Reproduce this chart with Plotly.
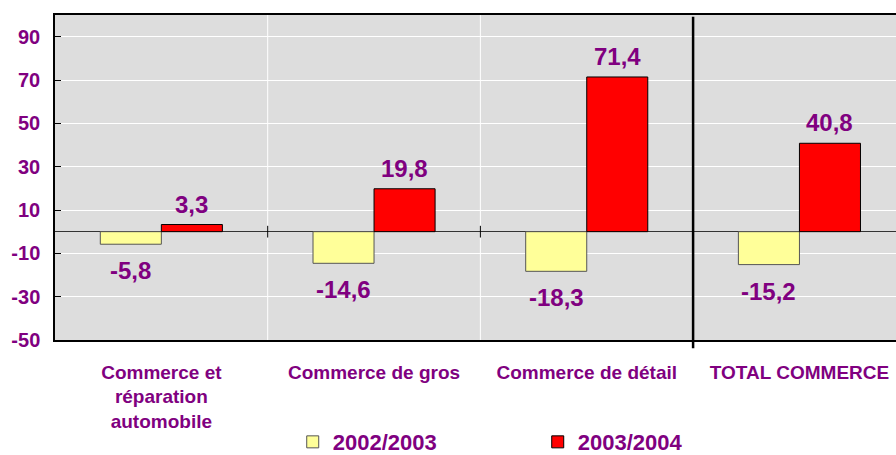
import plotly.graph_objects as go

categories = ["Commerce et<br>réparation<br>automobile", "Commerce de gros", "Commerce de détail", "TOTAL COMMERCE"]
series_names = ["2002/2003", "2003/2004"]
values_2003 = [-5.8, -14.6, -18.3, -15.2]
values_2004 = [3.3, 19.8, 71.4, 40.8]
y_ticks = [-50, -30, -10, 10, 30, 50, 70, 90]

PURPLE = "#800080"
FONT = "Liberation Sans"
BW = 0.287

idx = list(range(len(categories)))

fig = go.Figure()
fig.add_trace(go.Bar(
    x=idx, y=values_2003, name=series_names[0], width=BW, offset=-BW,
    marker=dict(color="#FFFF99", line=dict(color="#555555", width=1)),
))
fig.add_trace(go.Bar(
    x=idx, y=values_2004, name=series_names[1], width=BW, offset=0,
    marker=dict(color="#FF0000", line=dict(color="#000000", width=1)),
))

def fmt(v):
    return f"{v:.1f}".replace(".", ",")

annotations = []
for series, off in ((values_2003, -BW / 2), (values_2004, BW / 2)):
    for i, v in zip(idx, series):
        pos = v >= 0
        annotations.append(dict(
            x=i + off, y=v, xref="x", yref="y", text=fmt(v), showarrow=False,
            yanchor="bottom" if pos else "top", yshift=5 if pos else -11,
            font=dict(family=FONT, size=24, color=PURPLE, weight="bold"),
        ))

shapes = []
# white vertical gridlines at category boundaries
for b in (0.5, 1.5):
    shapes.append(dict(type="line", xref="x", yref="paper", x0=b, x1=b, y0=0, y1=1,
                       line=dict(color="white", width=1), layer="below"))
    shapes.append(dict(type="line", xref="x", yref="y", x0=b, x1=b, y0=-2.7, y1=2.7,
                       line=dict(color="black", width=1)))
# thick separator before total
shapes.append(dict(type="line", xref="x", yref="paper", x0=2.5, x1=2.5, y0=-0.025, y1=0.995,
                   line=dict(color="black", width=2.5)))

fig.update_layout(
    width=896, height=455,
    margin=dict(l=55, r=0, t=15, b=115, autoexpand=False),
    plot_bgcolor="#DDDDDD", paper_bgcolor="white",
    barmode="overlay",
    showlegend=True,
    legend=dict(orientation="h", x=0.574, xanchor="center", y=-0.314, yanchor="middle",
                font=dict(family=FONT, size=22, color=PURPLE, weight="bold"),
                entrywidth=200, itemclick=False),
    annotations=annotations,
    shapes=shapes,
    xaxis=dict(range=[-0.5, 3.454], tickvals=idx, ticktext=categories, automargin=False,
               showgrid=False, zeroline=False, showline=True, linecolor="black",
               linewidth=1.5, mirror=True, ticks="", ticklabelstandoff=14,
               tickfont=dict(family=FONT, size=19, color=PURPLE, weight="bold")),
    yaxis=dict(range=[-50, 100], tickvals=y_ticks, ticktext=[str(t) for t in y_ticks],
               automargin=False, showgrid=True, gridcolor="white",
               gridwidth=1, zeroline=True, zerolinecolor="#333333", zerolinewidth=1,
               showline=True, linecolor="black", linewidth=1.5, ticks="inside",
               ticklen=6, tickcolor="black", ticklabelstandoff=9,
               tickfont=dict(family=FONT, size=20, color=PURPLE, weight="bold")),
)

fig.write_html("out.html", config={"displayModeBar": False},
               post_script="document.body.style.margin='0';document.body.style.overflow='hidden';")
